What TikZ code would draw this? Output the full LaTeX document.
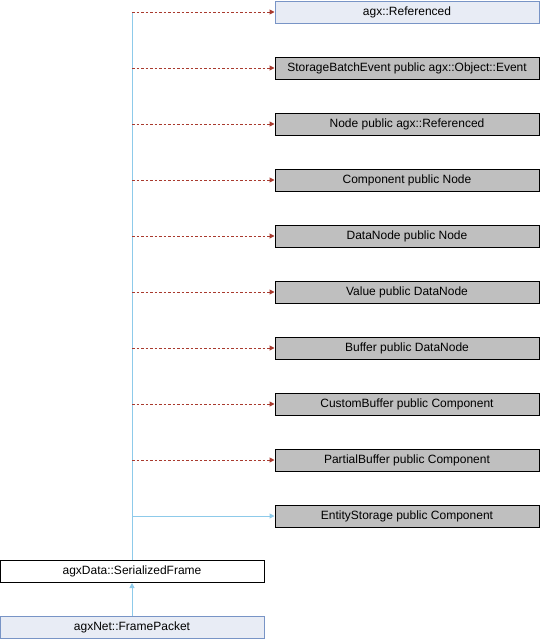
\documentclass[tikz,border=0pt]{standalone}
\usepackage{fontspec}
\setmainfont{Liberation Sans}
\usetikzlibrary{arrows.meta}
\definecolor{usedred}{HTML}{A93A2E}
\definecolor{inhblue}{HTML}{8DCAEA}
\definecolor{boxblue}{HTML}{E8ECF5}
\definecolor{edgeblue}{HTML}{7894C6}
\definecolor{boxgray}{HTML}{BFBFBF}
\tikzset{
  classbox/.style={draw, line width=1pt, minimum width=264pt, minimum height=22pt,
    inner sep=0pt, font=\fontsize{12}{14}\selectfont},
  graybox/.style={classbox, fill=boxgray, draw=black},
  bluebox/.style={classbox, fill=boxblue, draw=edgeblue},
  whitebox/.style={classbox, fill=white, draw=black},
  usedlink/.style={usedred, line width=1pt, dash pattern=on 2.5pt off 2pt,
    -{Triangle[length=5pt,width=5pt]}},
  inhlink/.style={inhblue, line width=1pt, -{Triangle[length=5pt,width=5pt]}}
}

\begin{document}
\begin{tikzpicture}[x=1pt, y=-1pt]
  \useasboundingbox (0,0) rectangle (540,640);
  % template arguments and members
  \node[bluebox] (referenced) at (407,12)  {agx::Referenced};
  \node[graybox] (batchevent) at (407,68)  {StorageBatchEvent public agx::Object::Event};
  \node[graybox] (nodeb)      at (407,124) {Node public agx::Referenced};
  \node[graybox] (component)  at (407,180) {Component public Node};
  \node[graybox] (datanode)   at (407,236) {DataNode public Node};
  \node[graybox] (value)      at (407,292) {Value public DataNode};
  \node[graybox] (buffer)     at (407,348) {Buffer public DataNode};
  \node[graybox] (custombuf)  at (407,404) {CustomBuffer public Component};
  \node[graybox] (partialbuf) at (407,460) {PartialBuffer public Component};
  \node[graybox] (entitystor) at (407,516) {EntityStorage public Component};
  % the frame and its subclass
  \node[whitebox] (frame)  at (132,571.5) {agxData::SerializedFrame};
  \node[bluebox]  (packet) at (132,627.5) {agxNet::FramePacket};

  \draw[inhblue, line width=1pt] (frame.north) -- (frame.north |- referenced.west);
  \draw[usedlink] (frame.north |- referenced.west) -- (referenced.west);
  \draw[usedlink] (frame.north |- batchevent.west) -- (batchevent.west);
  \draw[usedlink] (frame.north |- nodeb.west) -- (nodeb.west);
  \draw[usedlink] (frame.north |- component.west) -- (component.west);
  \draw[usedlink] (frame.north |- datanode.west) -- (datanode.west);
  \draw[usedlink] (frame.north |- value.west) -- (value.west);
  \draw[usedlink] (frame.north |- buffer.west) -- (buffer.west);
  \draw[usedlink] (frame.north |- custombuf.west) -- (custombuf.west);
  \draw[usedlink] (frame.north |- partialbuf.west) -- (partialbuf.west);
  \draw[inhlink]  (frame.north |- entitystor.west) -- (entitystor.west);
  \draw[inhlink]  (packet.north) -- (frame.south);
\end{tikzpicture}
\end{document}
